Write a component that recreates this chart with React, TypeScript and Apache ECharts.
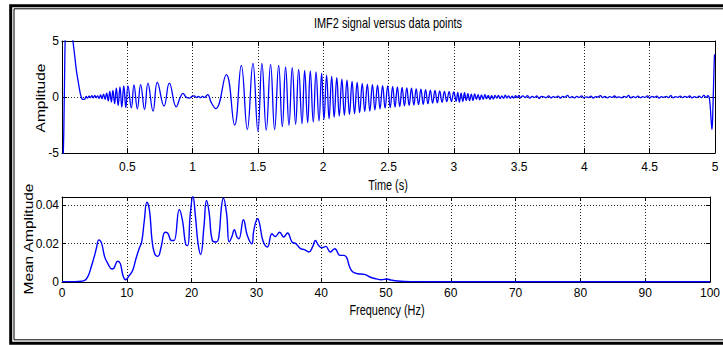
import React, { useEffect, useRef } from 'react';
import * as echarts from 'echarts';

const FONT = "'Liberation Sans', Arial, Helvetica, sans-serif";

const titleText = 'IMF2 signal versus data points';
const timeName = 'Time (s)';
const freqName = 'Frequency (Hz)';
const ampName = 'Amplitude';
const meanName = 'Mean Amplitude';
const timeTicks = { min: 0, max: 5, interval: 0.5 };
const ampTicks = { min: -5, max: 5, interval: 5 };
const freqTicks = { min: 0, max: 100, interval: 10 };
const meanTicks = { min: 0, max: 0.0444, interval: 0.02 };

const onset: number[][] = [
  [0.008, -6], [0.014, -3], [0.02, 2], [0.028, 6], [0.05, 7.2], [0.07, 6.5], [0.084, 5],
  [0.098, 3.6], [0.11, 2.4], [0.125, 1.3], [0.137, 0.5], [0.148, 0], [0.16, -0.22], [0.175, -0.18],
];
const ripples: number[][] = [
  [0.185, 0.05], [0.196, -0.1], [0.207, 0.08], [0.218, -0.06], [0.229, 0.12], [0.24, -0.08],
  [0.251, 0.15], [0.262, -0.05], [0.273, 0.1], [0.284, -0.12], [0.295, 0.18], [0.306, -0.15],
  [0.318, 0.25], [0.33, -0.2], [0.342, 0.35], [0.354, -0.35], [0.366, 0.5], [0.378, -0.45],
  [0.39, 0.6], [0.403, -0.6], [0.416, 0.8], [0.43, -0.75], [0.444, 0.9], [0.458, -0.9],
  [0.473, 1.0], [0.489, -0.95],
];
const burst1: number[][] = [
  [0.505, 1.0], [0.531, -0.97], [0.551, 1.08], [0.577, -1.06], [0.602, 1.1], [0.632, -1.12],
  [0.658, 1.24], [0.697, -1.26], [0.73, 1.3], [0.781, -0.82], [0.822, 1.24], [0.875, -0.88],
];
const quiet: number[][] = [
  [0.905, -0.05], [0.926, 0.32], [0.95, 0.0], [0.975, -0.1], [0.995, 0.05], [1.013, 0.1],
  [1.03, -0.05], [1.045, 0.05], [1.06, -0.06], [1.075, 0.05], [1.09, -0.04], [1.115, 0.22],
  [1.143, -0.5], [1.178, -1.04],
];
const burst2: number[][] = [
  [1.258, 2.0], [1.322, -2.5], [1.373, 2.83], [1.419, -2.9], [1.462, 3.0], [1.5, -3.04],
  [1.531, 3.0], [1.564, -2.95], [1.597, 2.92], [1.628, -2.9], [1.659, 2.83], [1.687, -2.65],
  [1.712, 2.68], [1.738, -2.53], [1.763, 2.62], [1.789, -2.44], [1.812, 2.47], [1.838, -2.38],
  [1.858, 2.38], [1.881, -2.29], [1.901, 2.32], [1.924, -2.23], [1.945, 2.23], [1.968, -2.14],
  [1.988, 2.1], [2.006, -2.0],
];
const decay1: number[][] = [
  [2.026, 1.95], [2.045, -1.95], [2.065, 1.85], [2.084, -1.8], [2.104, 1.72], [2.123, -1.7],
  [2.143, 1.6], [2.162, -1.62], [2.182, 1.5], [2.201, -1.55], [2.221, 1.4], [2.24, -1.5],
  [2.26, 1.3], [2.279, -1.4], [2.299, 1.22], [2.318, -1.3], [2.338, 1.15], [2.357, -1.25],
  [2.377, 1.1], [2.396, -1.15], [2.416, 1.05], [2.435, -1.05], [2.455, 1.02], [2.474, -1.0],
  [2.494, 1.0], [2.513, -0.95],
];
const decay2: number[][] = [
  [2.532, 0.95], [2.55, -0.9], [2.568, 0.9], [2.586, -0.85], [2.604, 0.85], [2.622, -0.8],
  [2.64, 0.82], [2.658, -0.75], [2.676, 0.78], [2.694, -0.72], [2.712, 0.72], [2.73, -0.68],
  [2.748, 0.7], [2.766, -0.65], [2.784, 0.65], [2.802, -0.6], [2.82, 0.62], [2.838, -0.55],
  [2.856, 0.58], [2.874, -0.52], [2.892, 0.55], [2.91, -0.48], [2.928, 0.5], [2.946, -0.42],
  [2.964, 0.48], [2.982, -0.4], [3.0, 0.45], [3.018, -0.38],
];
const tail1: number[][] = [
  [3.03, 0.42], [3.043, -0.45], [3.056, 0.35], [3.069, -0.4], [3.082, 0.38], [3.095, -0.3],
  [3.108, 0.3], [3.121, -0.32], [3.134, 0.25], [3.147, -0.3], [3.16, 0.28], [3.173, -0.22],
  [3.186, 0.2], [3.199, -0.25], [3.212, 0.18], [3.225, -0.2], [3.238, 0.22], [3.251, -0.15],
  [3.264, 0.15], [3.277, -0.2], [3.29, 0.12], [3.303, -0.18], [3.316, 0.15], [3.329, -0.1],
  [3.342, 0.14], [3.355, -0.15], [3.368, 0.1], [3.381, -0.12], [3.394, 0.16], [3.407, -0.08],
  [3.42, 0.1], [3.433, -0.12], [3.446, 0.08], [3.459, -0.1], [3.472, 0.12], [3.485, -0.06],
  [3.498, 0.15],
];
// low-level residual after 3.5 s, sampled every 0.018 s from 3.51 s
const residualStart = 3.51;
const residualStep = 0.018;
const residual: number[] = [
  -0.08, 0.1, -0.05, 0.12, -0.1, 0.06, -0.04, 0.09, -0.12, 0.05, 0.02, -0.06, 0.1, -0.08, 0.04, -0.03,
  0.08, -0.1, 0.05, -0.02, 0.15, -0.06, 0.03, -0.08, 0.06, -0.04, 0.1, -0.07, 0.02, -0.05, 0.08, -0.09,
  0.04, 0.0, 0.12, -0.06, 0.05, -0.08, 0.03, -0.04, 0.09, -0.05, 0.02, -0.07, 0.06, -0.03, 0.14, -0.08,
  0.04, -0.05, 0.07, -0.06, 0.03, -0.04, 0.1, -0.07, 0.05, -0.02, 0.08, -0.09, 0.04, -0.03, 0.06, -0.05,
  0.12, -0.08, 0.03, -0.04, 0.07, -0.06, 0.05, -0.03, 0.09, -0.07, 0.04, -0.05, 0.08, -0.06, 0.15, -0.04,
];
const endEffect: number[][] = [
  [4.945, 0.12], [4.958, -0.2], [4.97, -2.0], [4.977, -2.9], [4.984, -1.0], [4.99, 1.5],
  [4.996, 3.7], [5.0, 3.8],
];

// Spectrum: [frequency (Hz), mean amplitude]
const spectrum: number[][] = [
  [0, 0.0002], [1, 0.0002], [2, 0.0002], [3, 0.0004], [3.5, 0.0008], [3.8, 0.0017], [4.2, 0.0045],
  [4.5, 0.0078], [5.0, 0.0135], [5.3, 0.0175], [5.7, 0.022], [6.1, 0.0203], [6.6, 0.013], [7.1, 0.0095],
  [7.7, 0.0068], [8.0, 0.0072], [8.6, 0.0108], [9.0, 0.0096], [9.4, 0.0035], [9.8, 0.0012],
  [10.4, 0.0035], [10.9, 0.006], [11.4, 0.012], [11.9, 0.0174], [12.3, 0.021], [12.7, 0.032],
  [13.1, 0.0417], [13.5, 0.0374], [13.9, 0.0217], [14.3, 0.0148], [14.8, 0.0134], [15.3, 0.0183],
  [15.9, 0.026], [16.3, 0.0256], [16.9, 0.0217], [17.3, 0.0217], [18.1, 0.0379], [18.6, 0.032],
  [19.1, 0.0195], [19.4, 0.0191], [19.8, 0.0357], [20.2, 0.0448], [20.6, 0.034], [21.0, 0.02],
  [21.4, 0.0144], [21.9, 0.0287], [22.3, 0.0426], [22.7, 0.0365], [23.2, 0.0217], [23.8, 0.0209],
  [24.2, 0.0235], [24.6, 0.039], [24.9, 0.0438], [25.4, 0.0357], [25.8, 0.0209], [26.2, 0.0235],
  [26.6, 0.0273], [27.0, 0.0235], [27.3, 0.0226], [28.0, 0.0325], [28.6, 0.0243], [29.3, 0.02],
  [29.6, 0.027], [30.2, 0.033], [30.5, 0.0304], [31.0, 0.0217], [31.7, 0.0183], [32.4, 0.0252],
  [32.9, 0.0238], [33.6, 0.026], [34.2, 0.0235], [34.8, 0.0256], [35.5, 0.0209], [36.1, 0.02],
  [36.8, 0.0174], [37.4, 0.0169], [38.1, 0.0157], [38.7, 0.0186], [39.1, 0.0217], [39.6, 0.0191],
  [40.1, 0.0179], [40.7, 0.0186], [41.4, 0.0157], [42.1, 0.0174], [42.9, 0.0139], [43.4, 0.0139],
  [43.9, 0.013], [44.4, 0.0078], [44.9, 0.0052], [45.7, 0.0043], [46.7, 0.004], [47.5, 0.0026],
  [48.5, 0.0016], [49.3, 0.0012], [50.1, 0.0016], [50.8, 0.001], [51.8, 0.0005], [53.9, 0.0002],
  [60, 0.0001], [100, 0.0001],
];

const signal: number[][] = [
  ...onset, ...ripples, ...burst1, ...quiet, ...burst2, ...decay1, ...decay2, ...tail1,
  ...residual.map((v, i) => [residualStart + i * residualStep, v]),
  ...endEffect,
];

const black = '#000';
const labelStyle = { color: black, fontSize: 12, fontFamily: FONT };
const gridLine = { show: true, lineStyle: { color: '#222', width: 1, type: [1, 2] as any } };
const line = { show: true, onZero: false, lineStyle: { color: black, width: 1 } };

function mirrorAxis(gridIndex: number, pos: string, t: any, len: number) {
  return {
    type: 'value', gridIndex, position: pos, ...t,
    axisLine: line,
    axisTick: { show: true, inside: true, length: len, lineStyle: { color: black } },
    axisLabel: { show: false },
    splitLine: { show: false },
  };
}

function label(text: string, x: number, y: number, size: number, vertical: boolean) {
  return {
    type: 'text', silent: true, x, y,
    rotation: vertical ? Math.PI / 2 : 0,
    scaleX: vertical ? 1 : 0.78,
    scaleY: vertical ? 0.78 : 1,
    style: {
      text, fill: black, fontSize: size, fontFamily: FONT,
      align: 'center', verticalAlign: 'middle', textAlign: 'center', textVerticalAlign: 'middle',
    },
  };
}

export default function App() {
  const ref = useRef<HTMLDivElement>(null);
  useEffect(() => {
    const chart = echarts.init(ref.current!, null, { renderer: 'svg' });
    chart.setOption({
      animation: false,
      backgroundColor: '#fff',
      grid: [
        { left: 62, top: 41, width: 653, height: 112 },
        { left: 62, top: 197, width: 653, height: 85 },
      ],
      xAxis: [
        {
          type: 'value', gridIndex: 0, position: 'bottom', ...timeTicks,
          axisLine: line,
          axisTick: { show: true, inside: true, length: 5, lineStyle: { color: black } },
          axisLabel: { ...labelStyle, margin: 8, showMinLabel: false },
          splitLine: gridLine,
        },
        mirrorAxis(0, 'top', timeTicks, 5),
        {
          type: 'value', gridIndex: 1, position: 'bottom', ...freqTicks,
          axisLine: line,
          axisTick: { show: true, inside: true, length: 4, lineStyle: { color: black } },
          axisLabel: { ...labelStyle, margin: 5 },
          splitLine: gridLine,
        },
        mirrorAxis(1, 'top', freqTicks, 4),
      ],
      yAxis: [
        {
          type: 'value', gridIndex: 0, position: 'left', ...ampTicks,
          axisLine: line,
          axisTick: { show: true, inside: true, length: 5, lineStyle: { color: black } },
          axisLabel: { ...labelStyle, margin: 3 },
          splitLine: gridLine,
        },
        mirrorAxis(0, 'right', ampTicks, 5),
        {
          type: 'value', gridIndex: 1, position: 'left', ...meanTicks,
          axisLine: line,
          axisTick: { show: true, inside: true, length: 4, lineStyle: { color: black } },
          axisLabel: { ...labelStyle, margin: 3, showMaxLabel: false },
          splitLine: gridLine,
        },
        mirrorAxis(1, 'right', meanTicks, 4),
      ],
      series: [
        {
          type: 'line', xAxisIndex: 0, yAxisIndex: 0, data: signal, smooth: 0.45,
          showSymbol: false, symbol: 'none', lineStyle: { color: '#0000ff', width: 1.3 }, z: 5,
        },
        {
          type: 'line', xAxisIndex: 2, yAxisIndex: 2, data: spectrum, smooth: 0.45,
          showSymbol: false, symbol: 'none', lineStyle: { color: '#0000ff', width: 1.4 }, z: 5,
        },
      ],
      graphic: [
        {
          type: 'rect', silent: true,
          shape: { x: 10.7, y: 5.7, width: 740, height: 337.5 },
          style: { fill: 'none', stroke: black, lineWidth: 3 },
        },
        {
          type: 'rect', silent: true,
          shape: { x: 14, y: 8.8, width: 740, height: 331 },
          style: { fill: 'none', stroke: black, lineWidth: 1 },
        },
        label(titleText, 388, 24, 14, false),
        label(timeName, 388, 186, 14, false),
        label(freqName, 387, 310.5, 14, false),
        label(ampName, 41, 98, 15.5, true),
        label(meanName, 29, 239, 15.5, true),
      ],
    });
    return () => chart.dispose();
  }, []);
  return (
    <div
      ref={ref}
      style={{ position: 'fixed', left: 0, top: 0, width: 723, height: 345, background: '#fff' }}
    />
  );
}
